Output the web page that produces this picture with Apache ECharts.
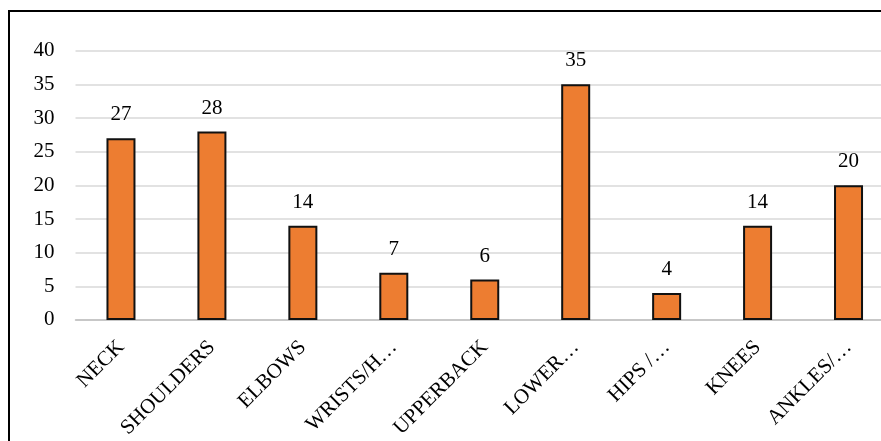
<!DOCTYPE html>
<html>
<head>
<meta charset="utf-8">
<script src="https://cdn.jsdelivr.net/npm/echarts@6/dist/echarts.min.js"></script>
<style>
  html, body { margin: 0; padding: 0; background: #fff; overflow: hidden; width: 881px; height: 441px; }
  #chart { width: 894px; height: 441px; }
</style>
</head>
<body>
<div id="chart"></div>
<script>
// Body regions (labels as they appear on the axis)
const categories = ['NECK', 'SHOULDERS', 'ELBOWS', 'WRISTS/H…', 'UPPERBACK', 'LOWER…', 'HIPS /…', 'KNEES', 'ANKLES/…'];
// Count per region
const counts = [27, 28, 14, 7, 6, 35, 4, 14, 20];
// Value axis range
const yMin = 0;
const yMax = 40;
const yStep = 5;

const font = '"Liberation Serif", "Times New Roman", serif';
const chart = echarts.init(document.getElementById('chart'), null, { renderer: 'canvas' });

chart.setOption({
  animation: false,
  backgroundColor: '#fff',
  graphic: [{
    type: 'rect',
    silent: true,
    shape: { x: 9, y: 11, width: 1000, height: 600 },
    style: { fill: 'none', stroke: '#000', lineWidth: 2 },
    z: 100
  }],
  grid: { left: 75.5, right: 0, top: 50.7, bottom: 120, containLabel: false },
  xAxis: {
    type: 'category',
    data: categories,
    axisLine: { show: true, lineStyle: { color: '#bfbfbf', width: 1.5 } },
    axisTick: { show: false },
    axisLabel: {
      interval: 0,
      rotate: 45,
      margin: 24,
      color: '#000',
      fontFamily: font,
      fontSize: 21
    }
  },
  yAxis: {
    type: 'value',
    min: yMin,
    max: yMax,
    interval: yStep,
    axisLine: { show: false },
    axisTick: { show: false },
    splitLine: { show: true, lineStyle: { color: '#d9d9d9', width: 1.5 } },
    axisLabel: {
      margin: 21,
      color: '#000',
      fontFamily: font,
      fontSize: 21
    }
  },
  series: [{
    type: 'bar',
    data: counts,
    barWidth: 29,
    itemStyle: { color: '#ED7D31', borderColor: '#111', borderWidth: 2 },
    label: {
      show: true,
      position: 'top',
      distance: 13,
      color: '#000',
      fontFamily: font,
      fontSize: 21
    }
  }]
});
</script>
</body>
</html>
